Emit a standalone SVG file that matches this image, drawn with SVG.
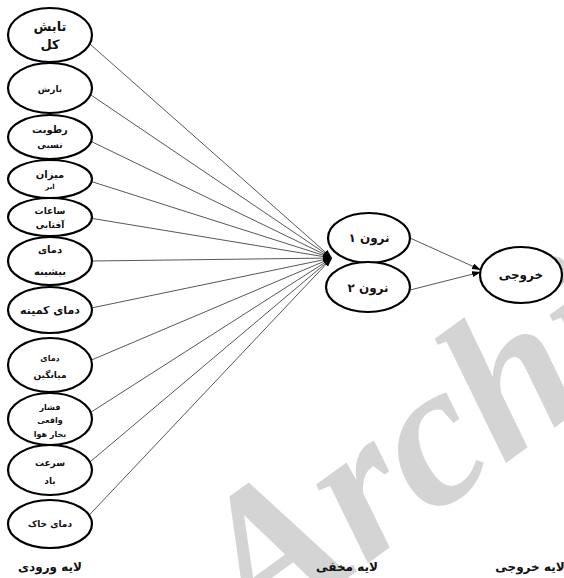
<svg xmlns="http://www.w3.org/2000/svg" width="564" height="578" viewBox="0 0 564 578">
<style>
.node ellipse{fill:#fff;stroke:#000;stroke-width:2.2}
.t{font-family:"DejaVu Sans",sans-serif;font-weight:bold;text-anchor:middle;fill:#111}
.conn line{stroke:#444;stroke-width:0.9}
.wm{font-family:"Liberation Serif",serif;font-weight:bold;font-style:italic;fill:#d4d4d4}
</style>
<defs>
<marker id="arr" markerWidth="9" markerHeight="6" refX="9" refY="3" orient="auto" markerUnits="userSpaceOnUse">
<path d="M0,0 L9,3 L0,6 Z" fill="#000"/>
</marker>
</defs>
<rect width="564" height="578" fill="#fff"/>
<text class="wm" font-size="205" transform="translate(254,646) rotate(-36)">Archi</text>
<g class="conn">
<line x1="89.7" y1="43.8" x2="332" y2="258" marker-end="url(#arr)"/>
<line x1="90.5" y1="94.7" x2="332" y2="258" marker-end="url(#arr)"/>
<line x1="91.1" y1="141.4" x2="332" y2="258" marker-end="url(#arr)"/>
<line x1="91.6" y1="181.6" x2="332" y2="258" marker-end="url(#arr)"/>
<line x1="91.9" y1="218.4" x2="332" y2="258" marker-end="url(#arr)"/>
<line x1="92" y1="261" x2="332" y2="258" marker-end="url(#arr)"/>
<line x1="91.8" y1="307.9" x2="332" y2="258" marker-end="url(#arr)"/>
<line x1="91.3" y1="360.1" x2="332" y2="258" marker-end="url(#arr)"/>
<line x1="90.6" y1="412.4" x2="332" y2="258" marker-end="url(#arr)"/>
<line x1="89.8" y1="462.1" x2="332" y2="258" marker-end="url(#arr)"/>
<line x1="89.1" y1="515.2" x2="332" y2="258" marker-end="url(#arr)"/>
<line x1="410" y1="238" x2="481" y2="270" marker-end="url(#arr)"/>
<line x1="410" y1="290" x2="481" y2="272" marker-end="url(#arr)"/>
</g>
<g id="in1" class="node"><ellipse cx="50" cy="35" rx="42" ry="27"/><text class="t" x="50" y="31" font-size="13">تابش</text><text class="t" x="50" y="49" font-size="13">کل</text></g>
<g id="in2" class="node"><ellipse cx="50" cy="88" rx="42" ry="25"/><text class="t" x="50" y="92" font-size="9">بارش</text></g>
<g id="in3" class="node"><ellipse cx="50" cy="137" rx="42" ry="22"/><text class="t" x="50" y="133" font-size="10">رطوبت</text><text class="t" x="50" y="148" font-size="9">نسبی</text></g>
<g id="in4" class="node"><ellipse cx="50" cy="179" rx="42" ry="19"/><text class="t" x="50" y="178" font-size="10">میزان</text><text class="t" x="50" y="189" font-size="7">ابر</text></g>
<g id="in5" class="node"><ellipse cx="50" cy="217" rx="42" ry="19"/><text class="t" x="50" y="214" font-size="9">ساعات</text><text class="t" x="50" y="228" font-size="9">آفتابی</text></g>
<g id="in6" class="node"><ellipse cx="50" cy="261" rx="42" ry="24"/><text class="t" x="50" y="253" font-size="10">دمای</text><text class="t" x="50" y="275" font-size="10">بیشینه</text></g>
<g id="in7" class="node"><ellipse cx="50" cy="310" rx="42" ry="23"/><text class="t" x="50" y="314" font-size="11">دمای کمینه</text></g>
<g id="in8" class="node"><ellipse cx="50" cy="365" rx="42" ry="27"/><text class="t" x="50" y="361" font-size="8">دمای</text><text class="t" x="50" y="378" font-size="9">میانگین</text></g>
<g id="in9" class="node"><ellipse cx="50" cy="419" rx="42" ry="26"/><text class="t" x="50" y="410" font-size="8">فشار</text><text class="t" x="50" y="423" font-size="8">واقعی</text><text class="t" x="50" y="437" font-size="8">بخار هوا</text></g>
<g id="in10" class="node"><ellipse cx="50" cy="470" rx="42" ry="25"/><text class="t" x="50" y="466" font-size="9">سرعت</text><text class="t" x="50" y="484" font-size="9">باد</text></g>
<g id="in11" class="node"><ellipse cx="50" cy="524" rx="42" ry="24"/><text class="t" x="50" y="527" font-size="9">دمای خاک</text></g>
<g id="h1" class="node"><ellipse cx="369" cy="238" rx="41" ry="25"/><text class="t" x="369" y="242" font-size="12">نرون ۱</text></g>
<g id="h2" class="node"><ellipse cx="368" cy="287" rx="42" ry="25"/><text class="t" x="368" y="292" font-size="12">نرون ۲</text></g>
<g id="out" class="node"><ellipse cx="521" cy="275" rx="41" ry="28"/><text class="t" x="521" y="279" font-size="12">خروجی</text></g>
<g id="labels">
<text class="t" x="50" y="571" font-size="12">لایه ورودی</text>
<text class="t" x="347" y="571" font-size="12">لایه مخفی</text>
<text class="t" x="530" y="571" font-size="12">لایه خروجی</text>
</g>
</svg>
